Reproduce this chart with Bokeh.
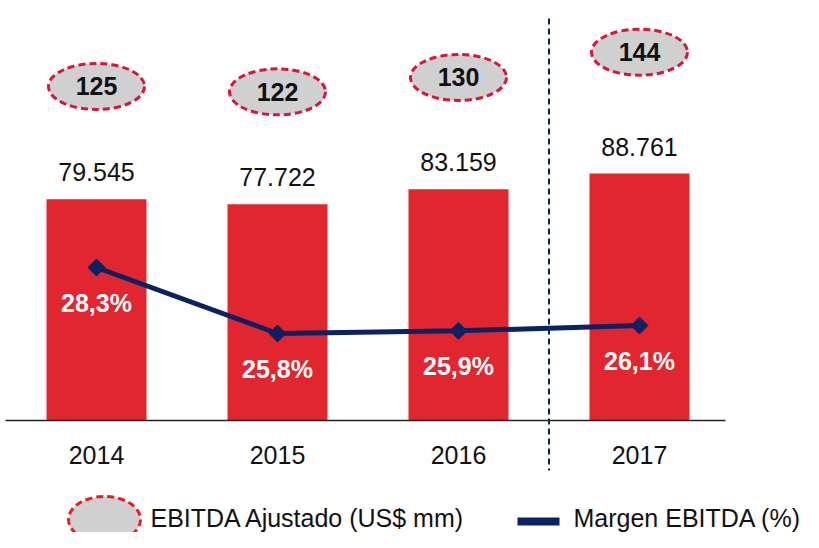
import numpy as np
from bokeh.plotting import figure
from bokeh.models import Range1d
from bokeh.core.properties import value
from bokeh.embed import file_html
from bokeh.resources import INLINE

# ---------------- data ----------------
years = ["2014", "2015", "2016", "2017"]
ebitda = [79545, 77722, 83159, 88761]
ebitda_labels = ["79.545", "77.722", "83.159", "88.761"]
margin = [28.3, 25.8, 25.9, 26.1]
margin_labels = ["28,3%", "25,8%", "25,9%", "26,1%"]
adjusted = [125, 122, 130, 144]
adjusted_labels = ["125", "122", "130", "144"]
legend_labels = ["EBITDA Ajustado (US$ mm)", "Margen EBITDA (%)"]

# ---------------- layout (pixels) ----------------
W, H = 803, 532
X0_PX, DX_PX = 96, 181          # centre of first category, spacing
BASE_PX = 420                   # baseline from top
VAL_PER_PX = 359.5              # bar value per pixel
PCT_PER_PX = 1 / 26.4
PCT_REF, PCT_REF_PX = 25.8, 333
BUB_PX_PER_UNIT = 1.803
BUB_REF, BUB_REF_PX = 130.25, 76.5

FONT = value("Liberation Sans")
RED = "#E2262F"
NAVY = "#0B2262"
GRAY = "#D0D0D0"
DASH_RED = "#D9153A"


def px2x(px):
    return (px - X0_PX) / DX_PX


def px2y(py):
    return (BASE_PX - py) * VAL_PER_PX


x_start, x_end = px2x(0), px2x(W)
y_start, y_end = px2y(H), px2y(0)
pct_start = PCT_REF - (H - PCT_REF_PX) * PCT_PER_PX
pct_end = pct_start + H * PCT_PER_PX
bub_top = BUB_REF + BUB_REF_PX / BUB_PX_PER_UNIT
bub_start = bub_top - H / BUB_PX_PER_UNIT

xs = list(range(len(years)))

p = figure(width=W, height=H, x_range=Range1d(x_start, x_end),
           y_range=Range1d(y_start, y_end),
           x_axis_location=None, y_axis_location=None,
           output_backend="svg", toolbar_location=None, min_border=0)
p.grid.visible = False
p.outline_line_color = None
p.background_fill_color = "white"
p.border_fill_color = "white"
p.extra_y_ranges = {"pct": Range1d(pct_start, pct_end),
                    "bub": Range1d(bub_start, bub_top)}

# bars
p.vbar(x=xs, top=ebitda, bottom=0, width=100 / DX_PX, fill_color=RED, line_color=None)

# baseline
p.segment(x0=[px2x(5)], y0=[0], x1=[px2x(725)], y1=[0], line_color="#222222", line_width=1.5)

# separator between 2016 and 2017
sep_x = (xs[2] + xs[3]) / 2
p.segment(x0=[sep_x], y0=[px2y(18)], x1=[sep_x], y1=[px2y(470)],
          line_color=NAVY, line_width=2, line_dash="6 4")

# bar value labels
p.text(x=xs, y=ebitda, text=ebitda_labels, y_offset=-27, text_font=FONT,
       text_font_size="25px", text_align="center", text_baseline="middle", text_color="#111111")

# year labels
p.text(x=xs, y=[0] * len(xs), text=years, y_offset=34, text_font=FONT,
       text_font_size="25px", text_align="center", text_baseline="middle", text_color="#111111")

# margin line
p.line(x=xs, y=margin, y_range_name="pct", line_color=NAVY, line_width=5)
p.scatter(x=xs, y=margin, y_range_name="pct", marker="square", size=12, angle=np.pi / 4,
          fill_color=NAVY, line_color=NAVY)
p.text(x=xs, y=margin, text=margin_labels, y_range_name="pct", y_offset=35, text_font=FONT,
       text_font_size="25px", text_font_style="bold", text_align="center",
       text_baseline="middle", text_color="white")

# adjusted EBITDA bubbles
p.ellipse(x=xs, y=adjusted, width=96, height=46, width_units="screen", height_units="screen",
          y_range_name="bub", fill_color=GRAY, line_color=DASH_RED, line_width=3, line_dash="7 4")
p.text(x=xs, y=adjusted, text=adjusted_labels, y_range_name="bub", text_font=FONT,
       text_font_size="25px", text_font_style="bold", text_align="center",
       text_baseline="middle", text_color="#111111")

# legend (manual)
p.ellipse(x=[px2x(104)], y=[px2y(519)], width=72, height=46, width_units="screen",
          height_units="screen", fill_color=GRAY, line_color="#F01A1A", line_width=3, line_dash="7 4")
p.text(x=[px2x(150)], y=[px2y(517)], text=[legend_labels[0]], text_font=FONT,
       text_font_size="25px", text_align="left", text_baseline="middle", text_color="#111111")
p.segment(x0=[px2x(517)], y0=[px2y(521)], x1=[px2x(559)], y1=[px2y(521)],
          line_color=NAVY, line_width=8)
p.text(x=[px2x(573)], y=[px2y(517)], text=[legend_labels[1]], text_font=FONT,
       text_font_size="25px", text_align="left", text_baseline="middle", text_color="#111111")

open("out.html", "w").write(file_html(p, INLINE))
